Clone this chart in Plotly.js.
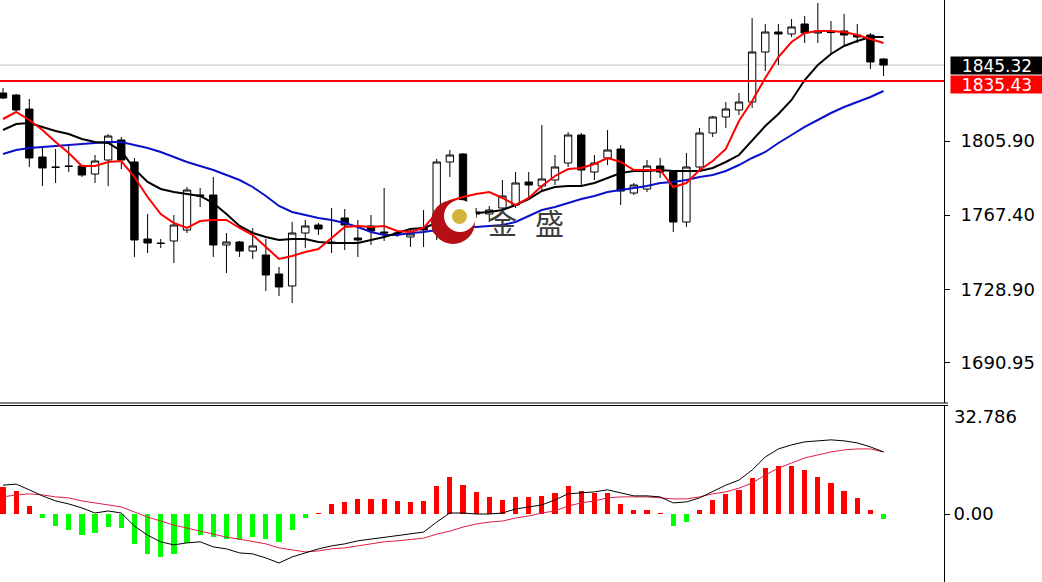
<!DOCTYPE html>
<html>
<head>
<meta charset="utf-8">
<script src="https://cdn.plot.ly/plotly-3.0.1.min.js"></script>
<style>html,body{margin:0;padding:0;background:#fff;}#chart{width:1042px;height:582px;}</style>
</head>
<body>
<div id="chart"></div>
<script>
// ---- price candles ----
const open = [1830.81,1829.77,1822.51,1797.60,1792.41,1792.93,1792.93,1788.77,1796.04,1806.42,
  1795.00,1755.04,1752.96,1754.00,1759.71,1777.87,1777.87,1751.92,1753.48,1748.81,
  1746.73,1736.87,1730.65,1758.15,1762.30,1753.48,1765.94,1755.56,1761.79,1758.67,
  1758.15,1756.08,1760.75,1758.67,1795.00,1799.15,1769.05,1768.01,1771.13,1772.68,
  1784.62,1782.55,1785.66,1794.48,1809.01,1789.81,1797.08,1801.75,1778.91,1780.99,
  1792.93,1789.81,1763.86,1792.41,1810.05,1818.36,1821.99,1826.14,1852.09,1862.47,
  1861.43,1866.62,1861.95,1862.47,1862.99,1860.91,1860.91,1848.46];
const high = [1833.41,1830.29,1827.70,1802.79,1801.75,1803.82,1793.44,1798.63,1809.53,1807.98,
  1797.08,1768.01,1755.04,1767.49,1782.03,1781.51,1787.22,1758.15,1754.00,1760.75,
  1755.04,1740.51,1763.86,1764.90,1763.34,1771.13,1770.61,1764.90,1767.49,1781.51,
  1759.19,1760.75,1770.09,1796.56,1801.23,1799.67,1771.13,1772.17,1785.66,1789.81,
  1789.81,1814.20,1798.63,1810.57,1810.05,1798.63,1811.61,1803.82,1784.10,1796.04,
  1797.08,1790.85,1799.67,1812.65,1818.88,1826.14,1830.81,1869.74,1866.62,1866.62,
  1869.22,1870.78,1877.52,1868.18,1871.81,1866.62,1861.95,1848.80];
const low = [1827.70,1821.47,1792.41,1782.55,1784.10,1789.81,1787.22,1784.10,1782.55,1791.37,
  1745.70,1747.77,1750.37,1742.58,1758.15,1771.65,1745.70,1737.39,1745.70,1744.66,
  1728.05,1725.46,1721.82,1750.37,1757.11,1747.77,1749.33,1745.70,1751.92,1754.00,
  1756.08,1750.89,1750.89,1754.52,1787.22,1767.49,1765.94,1763.86,1769.05,1771.13,
  1776.84,1780.47,1783.06,1792.41,1783.06,1785.66,1793.44,1772.68,1777.87,1779.43,
  1786.70,1758.67,1761.27,1790.85,1807.98,1812.65,1819.39,1823.03,1842.23,1845.34,
  1859.88,1856.76,1856.76,1851.05,1855.72,1856.76,1843.27,1839.64];
const close = [1828.22,1821.99,1797.08,1791.89,1792.20,1792.70,1788.25,1795.52,1808.50,1796.04,
  1754.52,1752.96,1752.70,1762.30,1780.47,1777.35,1751.92,1753.48,1748.81,1751.41,
  1736.35,1730.13,1758.15,1761.79,1760.23,1752.96,1762.30,1754.52,1759.19,1758.15,
  1757.90,1757.63,1759.71,1795.00,1798.63,1768.53,1768.01,1770.09,1777.36,1784.10,
  1783.06,1786.18,1792.41,1809.01,1790.85,1794.48,1801.23,1779.95,1783.06,1792.93,
  1789.81,1763.86,1792.41,1810.05,1818.36,1822.51,1826.14,1852.09,1862.47,1861.43,
  1865.07,1861.95,1862.99,1862.20,1860.91,1859.88,1846.90,1845.32];

// ---- moving averages ----
const maFast = [1817.32,1820.95,1816.80,1811.61,1805.38,1799.67,1792.93,1792.93,1795.00,1795.52,
  1787.22,1776.84,1768.01,1763.34,1760.75,1764.38,1764.90,1764.90,1760.75,1757.11,
  1750.89,1744.66,1746.22,1748.29,1749.85,1755.56,1761.27,1761.79,1761.27,1761.79,
  1759.19,1758.67,1760.75,1768.53,1774.76,1776.84,1778.39,1779.43,1776.32,1772.68,
  1776.32,1782.55,1787.74,1791.37,1791.89,1793.96,1797.08,1795.00,1790.85,1790.85,
  1790.85,1782.03,1784.10,1790.85,1795.52,1801.75,1816.28,1826.66,1838.60,1849.50,
  1857.28,1861.95,1862.99,1862.99,1862.47,1860.91,1858.84,1856.76];
const maMid = [1811.61,1814.72,1815.24,1813.17,1811.09,1809.53,1806.94,1805.38,1804.86,1800.71,
  1791.37,1784.62,1780.99,1779.43,1778.39,1777.36,1773.72,1768.01,1761.79,1758.15,
  1756.08,1754.52,1755.04,1755.04,1753.48,1752.96,1752.96,1752.96,1754.52,1756.08,
  1758.15,1760.23,1760.75,1763.34,1767.49,1769.05,1768.53,1769.05,1770.09,1772.68,
  1775.80,1779.95,1782.03,1782.55,1782.55,1784.10,1786.70,1789.29,1790.33,1790.33,
  1790.85,1790.33,1790.33,1790.33,1791.89,1795.00,1798.63,1806.42,1813.69,1819.91,
  1827.18,1837.56,1845.34,1851.05,1855.21,1857.80,1859.88,1859.88];
const maSlow = [1799.15,1801.23,1802.27,1802.79,1803.31,1803.82,1804.34,1804.86,1805.38,1805.38,
  1803.82,1802.27,1800.19,1797.60,1795.00,1792.93,1790.85,1788.25,1785.66,1782.03,
  1777.36,1772.17,1769.05,1767.49,1765.94,1764.90,1763.34,1761.27,1758.67,1757.11,
  1757.11,1758.15,1758.67,1759.71,1760.75,1761.27,1761.27,1761.79,1762.30,1763.86,
  1766.98,1770.09,1771.65,1773.72,1775.80,1777.36,1779.43,1780.47,1781.51,1782.55,
  1784.10,1784.62,1785.66,1787.22,1788.25,1790.33,1793.44,1797.08,1800.19,1804.86,
  1809.01,1813.17,1816.80,1820.43,1823.55,1826.14,1828.74,1831.85];

// ---- MACD panel ----
const macdHist = [8.0,6.9,2.4,-1.3,-3.6,-4.8,-6.3,-5.8,-3.8,-4.2,
  -8.9,-11.9,-12.8,-11.9,-8.6,-6.3,-6.9,-7.5,-7.7,-6.9,
  -7.5,-8.3,-4.8,-1.3,0.3,3.0,3.6,4.4,4.4,4.4,
  3.9,3.6,3.9,8.3,11.0,8.6,6.6,5.1,4.2,5.1,
  5.1,5.4,6.2,8.3,6.9,6.2,6.2,3.0,1.2,1.2,
  0.3,-3.6,-2.4,1.2,4.2,5.9,7.2,10.7,13.7,14.3,
  14.3,13.1,11.0,9.2,6.9,4.8,1.2,-1.5];
const macdLine = [8.6,8.9,7.2,5.4,3.9,3.0,1.8,0.3,0.9,0.3,
  -3.6,-6.3,-8.3,-9.2,-8.6,-8.3,-9.8,-10.4,-11.6,-11.9,
  -13.1,-14.6,-12.8,-11.6,-10.4,-9.5,-8.9,-8.0,-7.5,-6.9,
  -6.3,-6.0,-5.4,-2.4,0.3,0.3,0.0,0.0,0.3,1.5,
  2.1,2.7,4.2,6.0,6.3,6.6,7.2,6.3,5.4,5.4,
  5.1,3.3,3.6,4.8,6.6,8.6,10.1,13.1,17.0,19.4,
  20.6,21.5,21.8,22.1,21.8,21.2,20.0,18.5];
const signalLine = [5.1,5.7,6.0,5.7,5.1,4.8,3.9,3.3,2.7,2.1,
  0.6,-0.9,-2.1,-3.3,-4.2,-5.1,-6.0,-6.9,-7.5,-8.3,
  -8.9,-10.1,-10.7,-11.3,-11.0,-10.4,-10.1,-9.5,-8.9,-8.3,
  -8.0,-7.7,-7.2,-6.0,-5.1,-3.9,-3.0,-2.4,-2.1,-1.2,
  -0.6,0.3,0.9,2.4,3.3,3.9,4.8,5.1,5.1,5.1,
  4.8,4.5,4.5,5.1,6.0,6.6,7.7,9.2,11.6,13.7,
  15.2,16.7,17.6,18.5,19.1,19.4,19.4,18.5];

// ---- axis labels & price levels ----
const priceTickVals = [1805.90, 1767.40, 1728.90, 1690.95];
const priceTickText = ['1805.90', '1767.40', '1728.90', '1690.95'];
const macdTickVals = [0];
const macdTickText = ['0.00'];
const macdTopLabel = '32.786';
const bidPrice = 1845.32;
const levelLinePrice = 1837.0;
const levelLabelPrice = 1835.43;
const watermark = ['金', '盛'];

const idx = close.map((_, i) => i);
const XR = [-0.23, 71.6];
const tickFont = {family: 'DejaVu Sans, Verdana, sans-serif', size: 18, color: '#000'};

const traces = [
  {type: 'candlestick', x: idx, open: open, high: high, low: low, close: close,
   xaxis: 'x', yaxis: 'y', whiskerwidth: 0,
   increasing: {line: {color: '#000', width: 1}, fillcolor: '#ffffff'},
   decreasing: {line: {color: '#000', width: 1}, fillcolor: '#000000'},
   hoverinfo: 'skip'},
  {type: 'scatter', mode: 'lines', x: idx, y: maSlow, xaxis: 'x', yaxis: 'y',
   line: {color: '#0a10c8', width: 2}, hoverinfo: 'skip'},
  {type: 'scatter', mode: 'lines', x: idx, y: maMid, xaxis: 'x', yaxis: 'y',
   line: {color: '#000000', width: 2}, hoverinfo: 'skip'},
  {type: 'scatter', mode: 'lines', x: idx, y: maFast, xaxis: 'x', yaxis: 'y',
   line: {color: '#ff0000', width: 2}, hoverinfo: 'skip'},
  {type: 'bar', x: idx, y: macdHist, xaxis: 'x2', yaxis: 'y2', width: 0.4,
   marker: {color: macdHist.map(v => v >= 0 ? '#ff0000' : '#00ff00'), line: {width: 0}},
   hoverinfo: 'skip'},
  {type: 'scatter', mode: 'lines', x: idx, y: signalLine, xaxis: 'x2', yaxis: 'y2',
   line: {color: '#dc1e46', width: 1}, hoverinfo: 'skip'},
  {type: 'scatter', mode: 'lines', x: idx, y: macdLine, xaxis: 'x2', yaxis: 'y2',
   line: {color: '#000000', width: 1}, hoverinfo: 'skip'}
];

const H = 582, PW = 944;
const py = v => 1 - v / H;   // pixel row -> paper
const px = v => v / PW;      // pixel col -> paper

const layout = {
  width: 1042, height: 582,
  margin: {l: 0, r: 98, t: 0, b: 0, pad: 0},
  paper_bgcolor: '#ffffff', plot_bgcolor: '#ffffff',
  showlegend: false,
  bargap: 0,
  boxgap: 0.2,
  xaxis: {domain: [0, 1], range: XR, anchor: 'y', showticklabels: false, ticks: '',
          showgrid: false, zeroline: false, showline: false, rangeslider: {visible: false}, fixedrange: true},
  xaxis2: {domain: [0, 1], range: XR, anchor: 'y2', showticklabels: false, ticks: '',
           showgrid: false, zeroline: false, showline: false, fixedrange: true},
  yaxis: {domain: [py(403), 1], range: [1669.92, 1879.08], side: 'right', anchor: 'x',
          showline: true, linecolor: '#000', linewidth: 1, mirror: false,
          ticks: 'outside', ticklen: 5, tickcolor: '#000', tickwidth: 1,
          tickvals: priceTickVals, ticktext: priceTickText, tickfont: tickFont,
          ticklabelstandoff: 7, showgrid: false, zeroline: false, fixedrange: true},
  yaxis2: {domain: [0, py(405)], range: [-20.27, 32.49], side: 'right', anchor: 'x2',
           showline: true, linecolor: '#000', linewidth: 1,
           ticks: 'outside', ticklen: 5, tickcolor: '#000', tickwidth: 1,
           tickvals: macdTickVals, ticktext: macdTickText, tickfont: tickFont,
           ticklabelstandoff: 0, showgrid: false, zeroline: false, fixedrange: true},
  shapes: [
    {type: 'line', xref: 'paper', x0: 0, x1: 1, yref: 'y', y0: bidPrice, y1: bidPrice,
     line: {color: '#c0c0c0', width: 1}, layer: 'below'},
    {type: 'line', xref: 'paper', x0: 0, x1: 1, yref: 'y', y0: levelLinePrice, y1: levelLinePrice,
     line: {color: '#ff0000', width: 2}, layer: 'above'},
    {type: 'line', xref: 'paper', x0: 0, x1: px(948), yref: 'paper', y0: py(403), y1: py(403),
     line: {color: '#000', width: 1}},
    {type: 'line', xref: 'paper', x0: 0, x1: px(948), yref: 'paper', y0: py(405.5), y1: py(405.5),
     line: {color: '#000', width: 1}},
    // watermark logo
    {type: 'circle', xref: 'paper', yref: 'paper', x0: px(431), x1: px(475), y0: py(244), y1: py(200),
     fillcolor: '#b40f14', line: {width: 0}, layer: 'above'},
    {type: 'circle', xref: 'paper', yref: 'paper', x0: px(444), x1: px(476), y0: py(232), y1: py(200),
     fillcolor: '#ffffff', line: {width: 0}, layer: 'above'},
    {type: 'circle', xref: 'paper', yref: 'paper', x0: px(452), x1: px(467), y0: py(224), y1: py(209),
     fillcolor: '#d2b43c', line: {width: 0}, layer: 'above'}
  ],
  annotations: [
    {xref: 'paper', yref: 'y', x: px(950), y: bidPrice, xanchor: 'left', yanchor: 'middle',
     text: bidPrice.toFixed(2), showarrow: false, bgcolor: '#000000', width: 92, height: 17,
     borderpad: 0, font: {family: tickFont.family, size: 17, color: '#ffffff'}},
    {xref: 'paper', yref: 'y', x: px(950), y: levelLabelPrice, xanchor: 'left', yanchor: 'middle',
     text: levelLabelPrice.toFixed(2), showarrow: false, bgcolor: '#ff0000', width: 92, height: 17,
     borderpad: 0, font: {family: tickFont.family, size: 17, color: '#ffffff'}},
    {xref: 'paper', yref: 'paper', x: px(952), y: py(416), xanchor: 'left', yanchor: 'middle',
     text: macdTopLabel, showarrow: false, font: tickFont},
    {xref: 'paper', yref: 'paper', x: px(503), y: py(222), xanchor: 'center', yanchor: 'middle',
     text: watermark[0], showarrow: false,
     font: {family: 'Noto Sans CJK SC', size: 29, color: '#3c3c3c'}},
    {xref: 'paper', yref: 'paper', x: px(549), y: py(222), xanchor: 'center', yanchor: 'middle',
     text: watermark[1], showarrow: false,
     font: {family: 'Noto Sans CJK SC', size: 29, color: '#3c3c3c'}}
  ]
};

Plotly.newPlot('chart', traces, layout, {staticPlot: true, displayModeBar: false});
</script>
</body>
</html>
